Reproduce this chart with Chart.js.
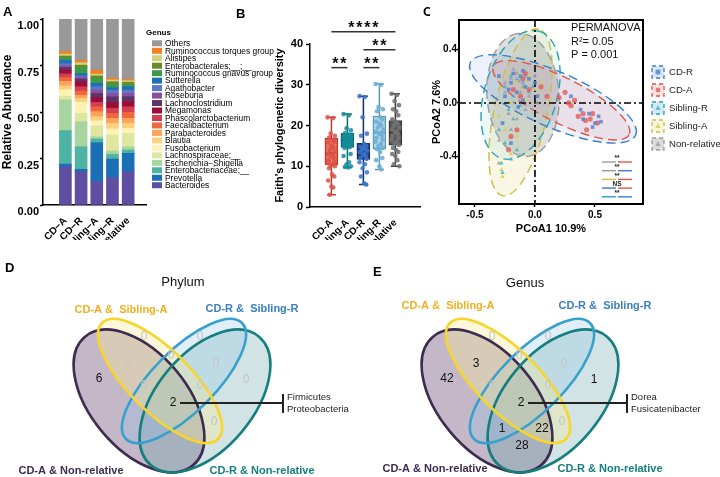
<!DOCTYPE html>
<html>
<head>
<meta charset="utf-8">
<script src="https://cdn.jsdelivr.net/npm/chart.js@4.4.1/dist/chart.umd.min.js"></script>
<style>
  body { margin: 0; background: #fff; width: 720px; height: 477px; position: relative; overflow: hidden; }
  canvas { position: absolute; }
</style>
</head>
<body>
<canvas id="chartA" width="290" height="240" style="left:0;top:0"></canvas>
<canvas id="chartB" width="200" height="240" style="left:230px;top:0"></canvas>
<canvas id="chartC" width="290" height="240" style="left:430px;top:0"></canvas>
<canvas id="chartD" width="360" height="237" style="left:0;top:240px"></canvas>
<canvas id="chartE" width="372" height="237" style="left:348px;top:240px"></canvas>
<script>
// ---------- Panel A : relative abundance (bottom -> top) ----------
const groupsA = ['CD−A', 'CD−R', 'Sibling−A', 'Sibling−R', 'Non−relative'];
const genera = ['Bacteroides', 'Prevotella', 'Enterobacteriaceae;__', 'Escherichia−Shigella', 'Lachnospiraceae;__',
  'Fusobacterium', 'Blautia', 'Parabacteroides', 'Faecalibacterium', 'Phascolarctobacterium', 'Megamonas',
  'Lachnoclostridium', 'Roseburia', 'Agathobacter', 'Sutterella', 'Ruminococcus gnavus group',
  'Enterobacterales;__;__', 'Alistipes', 'Ruminococcus torques group', 'Others'];
const abundCDA    = [0.205, 0.015, 0.180, 0.165, 0.020, 0.035, 0.020, 0.025, 0.020, 0.020, 0.020, 0.015, 0.010, 0.010, 0.018, 0.015, 0.008, 0.010, 0.014, 0.175];
const abundCDR    = [0.179, 0.013, 0.121, 0.135, 0.045, 0.059, 0.021, 0.017, 0.023, 0.023, 0.027, 0.014, 0.010, 0.007, 0.012, 0.034, 0.012, 0.013, 0.011, 0.224];
const abundSibA   = [0.125, 0.210, 0.020, 0.012, 0.059, 0.026, 0.023, 0.027, 0.026, 0.024, 0.025, 0.023, 0.018, 0.018, 0.018, 0.027, 0.013, 0.010, 0.020, 0.276];
const abundSibR   = [0.147, 0.100, 0.025, 0.018, 0.086, 0.033, 0.030, 0.027, 0.027, 0.027, 0.032, 0.030, 0.018, 0.018, 0.013, 0.018, 0.014, 0.009, 0.009, 0.319];
const abundNonRel = [0.179, 0.099, 0.018, 0.017, 0.072, 0.027, 0.028, 0.026, 0.032, 0.030, 0.028, 0.026, 0.018, 0.018, 0.018, 0.013, 0.011, 0.008, 0.008, 0.324];
const abundTicks = [0, 0.25, 0.5, 0.75, 1];

// ---------- Panel B : Faith's PD ----------
const groupsB = ['CD-A', 'Sibling-A', 'CD-R', 'Sibling-R', 'Non-relative'];
const faithCDA    = [22, 21.8, 18, 17.5, 17, 16.5, 16, 15.8, 15, 14.5, 14, 13.5, 13, 12.8, 12.5, 12, 11.5, 11, 10.8, 10.5, 10.2, 10, 9.5, 8, 7.5, 6.5, 5, 4.8, 3];
const faithSibA   = [22.8, 22.5, 19.3, 18.8, 18.1, 17.8, 17.5, 17, 16.8, 16.5, 16.3, 16, 15.8, 15.5, 15, 14.7, 14.5, 13, 12.5, 11, 10.5, 10, 9.8, 9.7];
const faithCDR    = [27.2, 27, 22, 18, 17.5, 15.5, 15, 14.8, 14.5, 14.2, 14, 13.8, 13.5, 13, 12.8, 12.5, 12, 11.8, 11, 10.5, 9.5, 8.5, 7.5, 5.8, 5.5];
const faithSibR   = [30.2, 30, 24.5, 24, 23.5, 22, 21.5, 21, 20.5, 20, 19.5, 19, 18.5, 18.2, 18, 17.5, 17, 16.5, 16, 15.5, 15, 14.5, 14.2, 13.5, 12, 11.5, 10, 9.2];
const faithNonRel = [27.8, 27.5, 26, 25, 24, 23.5, 22.5, 21.5, 21, 20.5, 20, 19.5, 19, 18.5, 18.3, 18, 17.5, 17, 16.5, 16, 15.5, 15.2, 14.5, 14, 13.5, 13, 12.5, 11.5, 10.5, 10];
const boxLow      = [10.3, 14.6, 11.7, 14.2, 15.2];
const boxHigh     = [16.9, 18.1, 15.6, 22.3, 21.2];
const boxMedian   = [13.2, 16.4, 14.2, 18.2, 18.3];
const whiskerLow  = [3.0, 9.7, 5.5, 9.2, 10.0];
const whiskerHigh = [22.0, 22.8, 27.2, 30.2, 27.8];
const jitterB = [-0.24, 0.1, -0.05, 0.22, -0.15, 0.05, 0.18, -0.2, 0.0, 0.12, -0.1, 0.25, -0.22, 0.08, -0.02, 0.15, -0.18, 0.2];
const sigPairs  = [[0, 1], [2, 3], [2, 4], [0, 4]];
const sigLabels = ['**', '**', '**', '****'];
const sigLevels = [34.2, 34.2, 38.6, 43.0];
const faithTicks = [0, 10, 20, 30, 40];

// ---------- Panel C : PCoA ----------
const groupsC = ['CD-R', 'CD-A', 'Sibling-R', 'Sibling-A', 'Non-relative'];
const pcoaCDR = [[-0.18,0.22],[-0.12,0.2],[-0.2,0.15],[-0.08,0.12],[-0.15,0.08],[-0.05,0.18],[-0.22,0.1],[0.02,0.05],[-0.1,0.02],[-0.25,0.05],[-0.14,-0.03],[0.3,0.05],[0.4,-0.12],[0.45,-0.08],[0.5,-0.15],[0.55,-0.14],[0.48,-0.18],[0.38,-0.05],[-0.27,-0.15],[-0.2,-0.3],[-0.1,0.24],[0.0,0.15],[-0.3,0.2],[0.53,-0.1]];
const pcoaCDA = [[-0.1,0.18],[-0.05,0.1],[0.05,0.12],[0.1,0.05],[0.2,0.04],[0.28,0.0],[0.33,0.02],[0.4,-0.08],[0.42,-0.13],[0.46,-0.12],[0.36,-0.1],[0.52,-0.15],[-0.18,0.1],[-0.12,0.05],[-0.2,-0.25],[-0.15,-0.2],[-0.22,-0.35],[0.25,0.08],[0.3,-0.02],[-0.08,0.22],[0.43,-0.2],[0.48,-0.08]];
const pcoaSibR = [[-0.2,0.2],[-0.15,0.18],[-0.1,0.15],[-0.25,0.12],[-0.18,0.05],[-0.05,0.08],[-0.12,-0.02],[-0.22,-0.05],[-0.25,-0.3],[-0.2,-0.42],[-0.28,-0.45],[-0.15,-0.35],[-0.3,-0.2],[-0.08,0.2],[-0.02,0.12],[-0.18,-0.12],[-0.27,-0.52]];
const pcoaSibA = [[-0.22,0.22],[-0.16,0.15],[-0.1,0.1],[-0.2,0.0],[-0.05,0.2],[0.0,0.1],[-0.12,0.2],[-0.3,-0.1],[-0.25,-0.2],[-0.2,-0.38],[-0.28,-0.5],[-0.15,-0.25],[-0.08,0.02],[0.05,0.15],[-0.27,-0.55]];
const pcoaNonRel = [[-0.15,0.22],[-0.2,0.18],[-0.1,0.12],[-0.25,0.15],[-0.05,0.05],[-0.18,0.0],[-0.12,0.08],[-0.22,-0.08],[-0.3,-0.28],[-0.2,-0.2],[0.0,0.2],[-0.08,-0.05],[-0.15,-0.12],[0.02,0.0],[-0.25,0.08],[-0.13,0.16],[-0.3,-0.45],[-0.18,0.25]];
// confidence ellipses: centre, semi axes, angle (deg)
const ellCentre = [[0.15, 0.03], [0.22, 0.02], [-0.12, 0.06], [-0.12, -0.07], [-0.1, 0.06]];
const ellAxes   = [[0.74, 0.21], [0.62, 0.17], [0.5, 0.3], [0.64, 0.22], [0.46, 0.3]];
const ellAngle  = [-21, -24, 70, 76, 95];
const pcoaXTicks = [-0.5, 0, 0.5];
const pcoaYTicks = [-0.4, 0, 0.4];
const permanova = ['PERMANOVA', 'R²= 0.05', 'P = 0.001'];
const pairTests = [[4, 1, '**'], [4, 0, '**'], [3, 1, '**'], [0, 1, 'NS'], [2, 0, '**']];

// ---------- Panels D / E : Venn ----------
const vennSets = ['CD-A & Non-relative', 'CD-R & Non-relative', 'CD-R &  Sibling-R', 'CD-A &  Sibling-A'];
const phylumCounts = [6, 0, 0, 0, 0, 0, 0, 0, 0, 2, 0, null, null, null];
const genusCounts  = [42, 3, 0, 0, 0, 0, 1, 0, 0, 2, 0, 1, 22, 28];
const phylumShared = ['Firmicutes', 'Proteobacteria'];
const genusShared  = ['Dorea', 'Fusicatenibacter'];

const FONT = '"Liberation Sans", Arial, Helvetica, sans-serif';
Chart.defaults.font.family = FONT;
Chart.defaults.color = '#000';
Chart.defaults.animation = false;

function letter(ctx, t, x, y) {
  ctx.save();
  ctx.font = 'bold 13px ' + FONT;
  ctx.fillStyle = '#000';
  ctx.textBaseline = 'middle';
  ctx.fillText(t, x, y);
  ctx.restore();
}

// ===== A =====
const genusColors = ['#5e4fa2', '#1a6fb5', '#4fb3a3', '#a7d5a0', '#dfe6a0', '#fef2b4', '#fdd080', '#fba55c',
  '#f0673f', '#d23f51', '#9e0d3a', '#5c3566', '#8c4d9e', '#5b78c4', '#1d6fb8', '#3e9a48', '#6a8a2a',
  '#d2d27a', '#f57f20', '#999999'];
const abundance = [abundCDA, abundCDR, abundSibA, abundSibR, abundNonRel];

const legendA = {
  id: 'legendA',
  afterDraw(chart) {
    const ctx = chart.ctx;
    ctx.save();
    ctx.textBaseline = 'middle';
    ctx.fillStyle = '#000';
    ctx.font = 'bold 8px ' + FONT;
    ctx.fillText('Genus', 146, 33);
    ctx.font = '8.4px ' + FONT;
    for (let k = 0; k < genera.length; k++) {
      const i = genera.length - 1 - k;
      const y = 43.3 + k * 7.47;
      ctx.fillStyle = genusColors[i];
      ctx.fillRect(152, y - 3, 10, 6);
      ctx.fillStyle = '#000';
      ctx.fillText(genera[i], 165, y + 0.5);
    }
    ctx.restore();
    letter(ctx, 'A', 3, 12);
  }
};

new Chart(document.getElementById('chartA'), {
  type: 'bar',
  data: {
    datasets: genera.map((g, i) => ({
      label: g,
      backgroundColor: genusColors[i],
      borderWidth: 0,
      barThickness: 12,
      data: abundance.map((col, j) => ({ x: j, y: col[i] }))
    }))
  },
  options: {
    responsive: false,
    layout: { padding: { top: 19, right: 144, left: 0, bottom: 0 } },
    plugins: { legend: { display: false }, tooltip: { enabled: false } },
    scales: {
      x: {
        type: 'linear', stacked: true, min: -0.77, max: 4.48,
        afterBuildTicks: s => { s.ticks = groupsA.map((_, i) => ({ value: i })); },
        afterFit: s => { s.height = 35; },
        grid: { display: false },
        border: { color: '#000', width: 1.5 },
        ticks: { minRotation: 45, maxRotation: 45, autoSkip: false, padding: 2,
          font: { size: 10, weight: 'bold' }, callback: v => groupsA[v] }
      },
      y: {
        stacked: true, min: 0, max: 1,
        afterBuildTicks: s => { s.ticks = abundTicks.map(v => ({ value: v })); },
        afterFit: s => { s.width = 43; },
        grid: { drawOnChartArea: false, tickLength: 3, color: '#000', tickWidth: 1.5 },
        border: { color: '#000', width: 1.5 },
        ticks: { labelOffset: 7, padding: 1, font: { size: 11, weight: 'bold' }, callback: v => v.toFixed(2) },
        title: { display: true, text: 'Relative Abundance', font: { size: 12, weight: 'bold' }, padding: { top: 0, bottom: 0 } }
      }
    }
  },
  plugins: [legendA]
});

// ===== B =====
const boxFill   = ['#ea7458', '#14909b', '#21427e', '#b3d9ee', '#575757'];
const boxLine   = ['#b53a34', '#0b6d78', '#172f5c', '#5b97b7', '#383838'];
const dotColors = ['rgba(222,80,70,0.85)', 'rgba(20,140,150,0.85)', 'rgba(55,115,205,0.85)', 'rgba(110,175,210,0.9)', 'rgba(115,115,115,0.9)'];
const faithGroups = [faithCDA, faithSibA, faithCDR, faithSibR, faithNonRel];

const boxPlugin = {
  id: 'boxPlugin',
  beforeDatasetsDraw(chart) {
    const { ctx, scales: { x, y } } = chart;
    ctx.save();
    ctx.lineWidth = 1.5;
    groupsB.forEach((_, i) => {
      const px = x.getPixelForValue(i);
      ctx.strokeStyle = boxLine[i];
      ctx.beginPath();
      ctx.moveTo(px, y.getPixelForValue(whiskerLow[i]));
      ctx.lineTo(px, y.getPixelForValue(whiskerHigh[i]));
      [whiskerLow[i], whiskerHigh[i]].forEach(v => {
        const py = y.getPixelForValue(v);
        ctx.moveTo(px - 4.5, py);
        ctx.lineTo(px + 4.5, py);
      });
      ctx.stroke();
    });
    ctx.restore();
  },
  afterDatasetDraw(chart, args) {
    if (args.index !== 0) return;
    const { ctx, scales: { x, y } } = chart;
    ctx.save();
    ctx.lineWidth = 1.5;
    groupsB.forEach((_, i) => {
      const px = x.getPixelForValue(i);
      const py = y.getPixelForValue(boxMedian[i]);
      ctx.strokeStyle = boxLine[i];
      ctx.beginPath();
      ctx.moveTo(px - 6.5, py);
      ctx.lineTo(px + 6.5, py);
      ctx.stroke();
    });
    ctx.restore();
  },
  afterDraw(chart) {
    const { ctx, scales: { x, y } } = chart;
    ctx.save();
    ctx.strokeStyle = '#333';
    ctx.fillStyle = '#111';
    ctx.lineWidth = 1.5;
    ctx.font = 'bold 16px ' + FONT;
    ctx.textAlign = 'center';
    ctx.textBaseline = 'alphabetic';
    sigPairs.forEach((p, k) => {
      const x0 = x.getPixelForValue(p[0]);
      const x1 = x.getPixelForValue(p[1]);
      const py = y.getPixelForValue(sigLevels[k]);
      ctx.beginPath();
      ctx.moveTo(x0, py);
      ctx.lineTo(x1, py);
      ctx.stroke();
      const chars = sigLabels[k].split('');
      const mid = (x0 + x1) / 2;
      chars.forEach((c, j) => {
        ctx.fillText(c, mid + (j - (chars.length - 1) / 2) * 8, py + 1);
      });
    });
    ctx.restore();
    letter(ctx, 'B', 6, 14);
    letter(ctx, 'C', 193, 12);
  }
};

new Chart(document.getElementById('chartB'), {
  type: 'bar',
  data: {
    datasets: [{
      type: 'bar',
      order: 2,
      data: groupsB.map((_, i) => ({ x: i, y: [boxLow[i], boxHigh[i]] })),
      backgroundColor: boxFill,
      borderColor: boxLine,
      borderWidth: 1.5,
      borderSkipped: false,
      barThickness: 13
    }].concat(faithGroups.map((vals, i) => ({
      type: 'scatter',
      order: 1,
      data: vals.map((v, k) => ({ x: i + jitterB[k % jitterB.length], y: v })),
      backgroundColor: dotColors[i],
      borderWidth: 0,
      pointRadius: 2.3
    })))
  },
  options: {
    responsive: false,
    layout: { padding: { top: 44, right: 10, left: 0, bottom: 0 } },
    plugins: { legend: { display: false }, tooltip: { enabled: false } },
    scales: {
      x: {
        type: 'linear', min: -0.65, max: 4.85,
        afterBuildTicks: s => { s.ticks = groupsB.map((_, i) => ({ value: i })); },
        afterFit: s => { s.height = 33; },
        grid: { display: false },
        border: { color: '#000', width: 1.5 },
        ticks: { minRotation: 45, maxRotation: 45, autoSkip: false, padding: 2,
          font: { size: 10, weight: 'bold' }, callback: v => groupsB[v] }
      },
      y: {
        min: 0, max: 40,
        afterBuildTicks: s => { s.ticks = faithTicks.map(v => ({ value: v })); },
        afterFit: s => { s.width = 80; },
        grid: { drawOnChartArea: false, tickLength: 4, color: '#000', tickWidth: 1.5 },
        border: { color: '#000', width: 1.5 },
        ticks: { padding: 3, font: { size: 11, weight: 'bold' } },
        title: { display: true, text: "Faith's phylogenetic diversity", font: { size: 11, weight: 'bold' }, padding: { top: 43, bottom: 0 } }
      }
    }
  },
  plugins: [boxPlugin]
});

// ===== C =====
const cLine  = ['#3c7fc4', '#e2574c', '#22a4b5', '#cdbf3f', '#9b9b9b'];
const cFill  = ['rgba(110,165,225,0.14)', 'rgba(232,130,140,0.16)', 'rgba(70,175,195,0.10)', 'rgba(225,215,120,0.20)', 'rgba(110,110,110,0.22)'];
const cDot   = ['rgba(75,130,205,0.8)', 'rgba(225,95,90,0.8)', 'rgba(80,180,200,0.85)', 'rgba(215,205,95,0.9)', 'rgba(160,160,160,0.85)'];
const cStyle = ['rect', 'circle', 'triangle', 'triangle', 'triangle'];
const pcoaGroups = [pcoaCDR, pcoaCDA, pcoaSibR, pcoaSibA, pcoaNonRel];
const ellOrder = [3, 2, 4, 0, 1];

function marker(ctx, style, x, y, r) {
  ctx.beginPath();
  if (style === 'rect') ctx.rect(x - r, y - r, 2 * r, 2 * r);
  else if (style === 'circle') ctx.arc(x, y, r, 0, Math.PI * 2);
  else { ctx.moveTo(x, y - r * 1.2); ctx.lineTo(x + r * 1.1, y + r * 0.8); ctx.lineTo(x - r * 1.1, y + r * 0.8); ctx.closePath(); }
  ctx.fill();
}

const pcoaPlugin = {
  id: 'pcoaPlugin',
  beforeDatasetsDraw(chart) {
    const { ctx, chartArea: a, scales: { x, y } } = chart;
    const sx = x.getPixelForValue(1) - x.getPixelForValue(0);
    const sy = y.getPixelForValue(1) - y.getPixelForValue(0);
    ctx.save();
    ctx.beginPath();
    ctx.rect(a.left, a.top, a.right - a.left, a.bottom - a.top);
    ctx.clip();
    const path = i => {
      ctx.save();
      ctx.translate(x.getPixelForValue(ellCentre[i][0]), y.getPixelForValue(ellCentre[i][1]));
      ctx.scale(sx, sy);
      ctx.rotate(ellAngle[i] * Math.PI / 180);
      ctx.beginPath();
      ctx.ellipse(0, 0, ellAxes[i][0], ellAxes[i][1], 0, 0, Math.PI * 2);
      ctx.restore();
    };
    ellOrder.forEach(i => { path(i); ctx.fillStyle = cFill[i]; ctx.fill(); });
    ctx.lineWidth = 1.4;
    ctx.setLineDash([9, 5]);
    ellOrder.forEach(i => { path(i); ctx.strokeStyle = cLine[i]; ctx.stroke(); });
    // zero reference lines
    ctx.strokeStyle = '#000';
    ctx.lineWidth = 1.6;
    ctx.setLineDash([7, 3, 2, 3]);
    ctx.beginPath();
    ctx.moveTo(x.getPixelForValue(0), a.top);
    ctx.lineTo(x.getPixelForValue(0), a.bottom);
    ctx.moveTo(a.left, y.getPixelForValue(0));
    ctx.lineTo(a.right, y.getPixelForValue(0));
    ctx.stroke();
    ctx.restore();
  },
  afterDraw(chart) {
    const { ctx, chartArea: a } = chart;
    ctx.save();
    ctx.strokeStyle = '#000';
    ctx.lineWidth = 2;
    ctx.strokeRect(a.left, a.top, a.right - a.left, a.bottom - a.top);
    // statistics text
    ctx.fillStyle = '#111';
    ctx.font = '11px ' + FONT;
    ctx.textBaseline = 'middle';
    permanova.forEach((t, i) => ctx.fillText(t, 141, 28 + i * 13.5));
    // legend
    ctx.font = '9.6px ' + FONT;
    groupsC.forEach((g, i) => {
      const yy = 72 + i * 18;
      ctx.fillStyle = cFill[i].replace(/0\.\d+\)$/, '0.25)');
      ctx.fillRect(222, yy - 6, 12, 12);
      ctx.setLineDash([4, 3]);
      ctx.lineWidth = 1.3;
      ctx.strokeStyle = cLine[i];
      ctx.strokeRect(222, yy - 6, 12, 12);
      ctx.setLineDash([]);
      ctx.fillStyle = cDot[i];
      marker(ctx, cStyle[i], 228, yy, 2.4);
      ctx.fillStyle = '#222';
      ctx.fillText(g, 239, yy);
    });
    // pairwise tests
    ctx.lineWidth = 1.4;
    ctx.textAlign = 'center';
    ctx.font = 'bold 6.5px ' + FONT;
    pairTests.forEach((p, k) => {
      const yy = 162 + k * 8.7;
      ctx.strokeStyle = cLine[p[0]];
      ctx.beginPath(); ctx.moveTo(172, yy); ctx.lineTo(186, yy); ctx.stroke();
      ctx.strokeStyle = cLine[p[1]];
      ctx.beginPath(); ctx.moveTo(188, yy); ctx.lineTo(202, yy); ctx.stroke();
      ctx.fillStyle = '#222';
      ctx.fillText(p[2], 187, yy - 3.5);
    });
    ctx.restore();
  }
};

new Chart(document.getElementById('chartC'), {
  type: 'scatter',
  data: {
    datasets: pcoaGroups.map((pts, i) => ({
      label: groupsC[i],
      data: pts.map(p => ({ x: p[0], y: p[1] })),
      backgroundColor: cDot[i],
      borderWidth: 0,
      pointStyle: cStyle[i],
      pointRadius: 2.6
    }))
  },
  options: {
    responsive: false,
    layout: { padding: { top: 20, right: 77, left: 0, bottom: 0 } },
    plugins: { legend: { display: false }, tooltip: { enabled: false } },
    scales: {
      x: {
        type: 'linear', min: -0.633, max: 0.9,
        afterBuildTicks: s => { s.ticks = pcoaXTicks.map(v => ({ value: v })); },
        afterFit: s => { s.height = 36; },
        grid: { drawOnChartArea: false, tickLength: 3, color: '#000', tickWidth: 1.5 },
        border: { color: '#000', width: 2 },
        ticks: { padding: 2, font: { size: 10, weight: 'bold' }, callback: v => v.toFixed(1) },
        title: { display: true, text: 'PCoA1 10.9%', font: { size: 11, weight: 'bold' }, padding: { top: 0, bottom: 4 } }
      },
      y: {
        min: -0.754, max: 0.619,
        afterBuildTicks: s => { s.ticks = pcoaYTicks.map(v => ({ value: v })); },
        afterFit: s => { s.width = 29; },
        grid: { drawOnChartArea: false, tickLength: 2, color: '#000', tickWidth: 1.5 },
        border: { color: '#000', width: 2 },
        ticks: { padding: 0, font: { size: 10, weight: 'bold' }, callback: v => v.toFixed(1) },
        title: { display: true, text: 'PCoA2 7.6%', font: { size: 11, weight: 'bold' }, padding: { top: 0, bottom: 0 } }
      }
    }
  },
  plugins: [pcoaPlugin]
});

// ===== D / E : Venn diagrams =====
const vennCentre = [[139, 161], [205, 161], [184, 141], [160, 141]];
const vennAxes   = [[84, 48], [84, 48], [82, 31], [82, 31]];
const vennAngle  = [50, -50, -45, 45];
const vennStroke = ['#3d2b50', '#157e7e', '#37a0cc', '#f7d52a'];
const vennFill   = ['rgba(115,85,125,0.42)', 'rgba(95,155,160,0.28)', 'rgba(140,195,230,0.28)', 'rgba(250,235,150,0.35)'];
const vennText   = ['#3d2b50', '#15807f', '#3a7fc0', '#f0b020'];
const regionAnchor = [[99, 139], [128, 124], [144, 97], [200, 97], [171, 116], [216, 124], [246, 140],
  [144, 146], [200, 146], [173, 163], [214, 182], [154, 189], [194, 189], [174, 206]];

function makeVenn(id, opt) {
  const vennPlugin = {
    id: 'venn' + id,
    beforeDatasetsDraw(chart) {
      const { ctx, scales: { x, y } } = chart;
      const sx = x.getPixelForValue(1) - x.getPixelForValue(0);
      const sy = y.getPixelForValue(1) - y.getPixelForValue(0);
      const path = i => {
        ctx.save();
        ctx.translate(x.getPixelForValue(vennCentre[i][0]), y.getPixelForValue(vennCentre[i][1]));
        ctx.scale(sx, sy);
        ctx.rotate(vennAngle[i] * Math.PI / 180);
        ctx.beginPath();
        ctx.ellipse(0, 0, vennAxes[i][0], vennAxes[i][1], 0, 0, Math.PI * 2);
        ctx.restore();
      };
      ctx.save();
      vennSets.forEach((_, i) => { path(i); ctx.fillStyle = vennFill[i]; ctx.fill(); });
      ctx.lineWidth = 2.6;
      vennSets.forEach((_, i) => { path(i); ctx.strokeStyle = vennStroke[i]; ctx.stroke(); });
      ctx.restore();
    },
    afterDatasetsDraw(chart) {
      const ctx = chart.ctx;
      const pts = chart.getDatasetMeta(0).data;
      ctx.save();
      ctx.textAlign = 'center';
      ctx.textBaseline = 'middle';
      ctx.font = '12px ' + FONT;
      pts.forEach((p, i) => {
        const v = opt.counts[i];
        if (v === null) return;
        ctx.fillStyle = v === 0 ? '#c4c4c4' : '#111';
        ctx.fillText(String(v), p.x, p.y);
      });
      // shared taxa bracket
      const c = pts[9];
      ctx.strokeStyle = '#222';
      ctx.lineWidth = 2;
      ctx.beginPath();
      ctx.moveTo(c.x + 7, c.y);
      ctx.lineTo(opt.bracketX, c.y);
      ctx.moveTo(opt.bracketX, c.y - 9);
      ctx.lineTo(opt.bracketX, c.y + 10);
      ctx.stroke();
      ctx.textAlign = 'left';
      ctx.font = '9.5px ' + FONT;
      ctx.fillStyle = '#222';
      opt.shared.forEach((t, k) => ctx.fillText(t, opt.bracketX + 4, c.y - 6 + k * 12));
      // set names
      ctx.textAlign = 'center';
      ctx.font = 'bold 11px ' + FONT;
      vennSets.forEach((s, i) => {
        ctx.fillStyle = vennText[i];
        ctx.fillText(s, opt.setPos[i][0], opt.setPos[i][1]);
      });
      ctx.font = '13px ' + FONT;
      ctx.fillStyle = '#111';
      ctx.fillText(opt.title, opt.titlePos[0], opt.titlePos[1]);
      ctx.restore();
      letter(ctx, opt.letter, opt.letterPos[0], opt.letterPos[1]);
    }
  };
  const cv = document.getElementById(id);
  new Chart(cv, {
    type: 'scatter',
    data: { datasets: [{ data: regionAnchor.map(r => ({ x: r[0], y: r[1] })), pointRadius: 0 }] },
    options: {
      responsive: false,
      layout: { padding: 0 },
      plugins: { legend: { display: false }, tooltip: { enabled: false } },
      scales: {
        x: { type: 'linear', display: false, min: 0, max: cv.width },
        y: { type: 'linear', display: false, min: 0, max: cv.height, reverse: true }
      }
    },
    plugins: [vennPlugin]
  });
}

makeVenn('chartD', {
  counts: phylumCounts, shared: phylumShared, bracketX: 283,
  title: 'Phylum', titlePos: [183, 42], letter: 'D', letterPos: [5, 28],
  setPos: [[71, 231], [262, 231], [252, 69], [121, 70]]
});
makeVenn('chartE', {
  counts: genusCounts, shared: genusShared, bracketX: 279,
  title: 'Genus', titlePos: [177, 43], letter: 'E', letterPos: [25, 32],
  setPos: [[87, 229], [262, 229], [257, 66], [100, 66]]
});
</script>
</body>
</html>
